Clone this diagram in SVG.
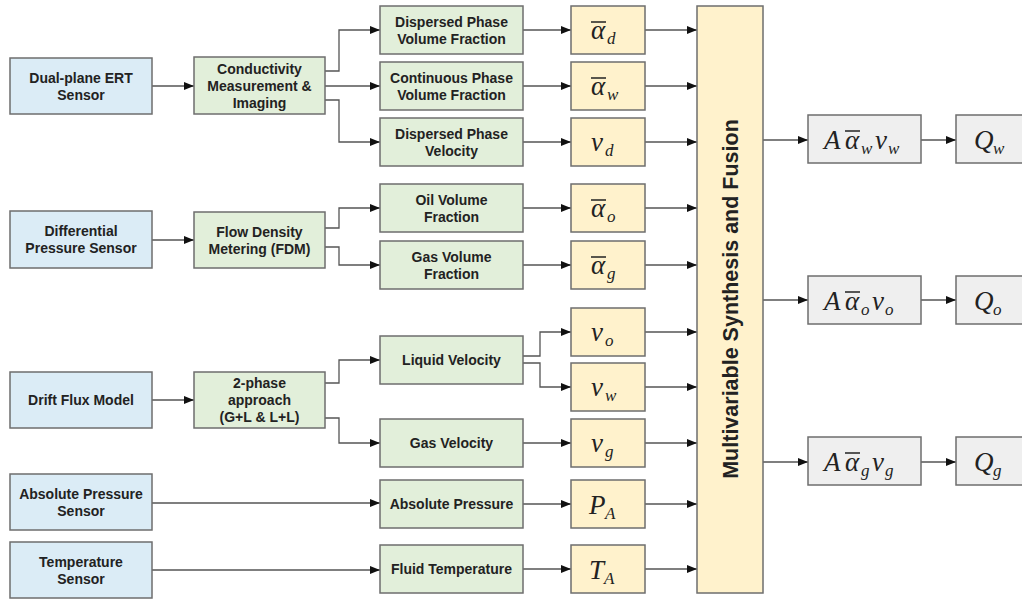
<svg xmlns="http://www.w3.org/2000/svg" width="1022" height="601" viewBox="0 0 1022 601">
<defs>
<marker id="ah" markerUnits="userSpaceOnUse" markerWidth="10" markerHeight="10" refX="10" refY="5" orient="auto">
<path d="M0,1 L10,5 L0,9 z" fill="#111"/>
</marker>
<style>
.b{fill:#dbecf6;stroke:#6e6e6e;stroke-width:1.5}
.g{fill:#e2efda;stroke:#6e6e6e;stroke-width:1.5}
.y{fill:#fff2cc;stroke:#6e6e6e;stroke-width:1.5}
.r{fill:#efefef;stroke:#6e6e6e;stroke-width:1.5}
.t{font-family:"Liberation Sans",Arial,sans-serif;font-weight:bold;font-size:14px;fill:#222;text-anchor:middle}
.m{font-family:"Liberation Serif","Times New Roman",serif;font-style:italic;font-size:27px;fill:#222}
.s{font-size:17px}
.ol{stroke:#222;stroke-width:1.5}
.c path{fill:none;stroke:#555;stroke-width:1.3;marker-end:url(#ah)}
</style>
</defs>
<rect width="1022" height="601" fill="#fff"/>

<g id="connectors" class="c">
<path d="M152,86 H194"/>
<path d="M152,240 H194"/>
<path d="M152,400 H194"/>
<path d="M152,503 H380"/>
<path d="M152,570 H380"/>
<path d="M325,71 H339 V30 H380"/>
<path d="M325,86 H380"/>
<path d="M325,100 H339 V142 H380"/>
<path d="M325,228 H339 V208 H380"/>
<path d="M325,247 H339 V265 H380"/>
<path d="M325,383 H339 V360 H380"/>
<path d="M325,418 H339 V443 H380"/>
<path d="M523,356 H540 V332 H571"/>
<path d="M523,363 H540 V387 H571"/>
<path d="M523,30 H571"/>
<path d="M523,86 H571"/>
<path d="M523,142 H571"/>
<path d="M523,208 H571"/>
<path d="M523,265 H571"/>
<path d="M523,443 H571"/>
<path d="M523,504 H571"/>
<path d="M523,569 H571"/>
<path d="M645,30 H697"/>
<path d="M645,86 H697"/>
<path d="M645,142 H697"/>
<path d="M645,208 H697"/>
<path d="M645,265 H697"/>
<path d="M645,332 H697"/>
<path d="M645,387 H697"/>
<path d="M645,443 H697"/>
<path d="M645,504 H697"/>
<path d="M645,569 H697"/>
<path d="M763,140 H808"/>
<path d="M763,300 H808"/>
<path d="M763,462 H808"/>
<path d="M921,140 H956"/>
<path d="M921,300 H956"/>
<path d="M921,462 H956"/>
</g>

<g id="ert-sensor"><rect class="b" x="10" y="58" width="142" height="56"/><text class="t" x="81" y="83">Dual-plane ERT</text><text class="t" x="81" y="100">Sensor</text></g>
<g id="dp-sensor"><rect class="b" x="10" y="211" width="142" height="57"/><text class="t" x="81" y="236">Differential</text><text class="t" x="81" y="253">Pressure Sensor</text></g>
<g id="drift-flux"><rect class="b" x="10" y="372" width="142" height="56"/><text class="t" x="81" y="405">Drift Flux Model</text></g>
<g id="abs-sensor"><rect class="b" x="10" y="474" width="142" height="56"/><text class="t" x="81" y="499">Absolute Pressure</text><text class="t" x="81" y="516">Sensor</text></g>
<g id="temp-sensor"><rect class="b" x="10" y="542" width="142" height="56"/><text class="t" x="81" y="567">Temperature</text><text class="t" x="81" y="584">Sensor</text></g>

<g id="conductivity"><rect class="g" x="194" y="57" width="131" height="57"/><text class="t" x="259.5" y="74">Conductivity</text><text class="t" x="259.5" y="91">Measurement &amp;</text><text class="t" x="259.5" y="108">Imaging</text></g>
<g id="fdm"><rect class="g" x="194" y="212" width="131" height="56"/><text class="t" x="259.5" y="237">Flow Density</text><text class="t" x="259.5" y="254">Metering (FDM)</text></g>
<g id="two-phase"><rect class="g" x="194" y="372" width="131" height="56"/><text class="t" x="259.5" y="388">2-phase</text><text class="t" x="259.5" y="405">approach</text><text class="t" x="259.5" y="422">(G+L &amp; L+L)</text></g>

<g id="dpvf"><rect class="g" x="380" y="6" width="143" height="48"/><text class="t" x="451.5" y="27">Dispersed Phase</text><text class="t" x="451.5" y="44">Volume Fraction</text></g>
<g id="cpvf"><rect class="g" x="380" y="62" width="143" height="48"/><text class="t" x="451.5" y="83">Continuous Phase</text><text class="t" x="451.5" y="100">Volume Fraction</text></g>
<g id="dpv"><rect class="g" x="380" y="118" width="143" height="48"/><text class="t" x="451.5" y="139">Dispersed Phase</text><text class="t" x="451.5" y="156">Velocity</text></g>
<g id="oilvf"><rect class="g" x="380" y="184" width="143" height="48"/><text class="t" x="451.5" y="205">Oil Volume</text><text class="t" x="451.5" y="222">Fraction</text></g>
<g id="gasvf"><rect class="g" x="380" y="241" width="143" height="48"/><text class="t" x="451.5" y="262">Gas Volume</text><text class="t" x="451.5" y="279">Fraction</text></g>
<g id="liqvel"><rect class="g" x="380" y="336" width="143" height="48"/><text class="t" x="451.5" y="365">Liquid Velocity</text></g>
<g id="gasvel"><rect class="g" x="380" y="419" width="143" height="48"/><text class="t" x="451.5" y="448">Gas Velocity</text></g>
<g id="abspres"><rect class="g" x="380" y="480" width="143" height="48"/><text class="t" x="451.5" y="509">Absolute Pressure</text></g>
<g id="fluidtemp"><rect class="g" x="380" y="545" width="143" height="48"/><text class="t" x="451.5" y="574">Fluid Temperature</text></g>

<g id="alpha-d"><rect class="y" x="571" y="6" width="74" height="48"/><line class="ol" x1="591" y1="22" x2="606" y2="22"/><text class="m" x="591" y="39">α<tspan class="s" x="607" y="44">d</tspan></text></g>
<g id="alpha-w"><rect class="y" x="571" y="62" width="74" height="48"/><line class="ol" x1="591" y1="78" x2="606" y2="78"/><text class="m" x="591" y="95">α<tspan class="s" x="607" y="100">w</tspan></text></g>
<g id="v-d"><rect class="y" x="571" y="118" width="74" height="48"/><text class="m" x="591" y="151">v<tspan class="s" x="605" y="156">d</tspan></text></g>
<g id="alpha-o"><rect class="y" x="571" y="184" width="74" height="48"/><line class="ol" x1="591" y1="200" x2="606" y2="200"/><text class="m" x="591" y="217">α<tspan class="s" x="607" y="222">o</tspan></text></g>
<g id="alpha-g"><rect class="y" x="571" y="241" width="74" height="48"/><line class="ol" x1="591" y1="257" x2="606" y2="257"/><text class="m" x="591" y="274">α<tspan class="s" x="607" y="279">g</tspan></text></g>
<g id="v-o"><rect class="y" x="571" y="308" width="74" height="48"/><text class="m" x="591" y="341">v<tspan class="s" x="605" y="346">o</tspan></text></g>
<g id="v-w"><rect class="y" x="571" y="363" width="74" height="48"/><text class="m" x="591" y="396">v<tspan class="s" x="605" y="401">w</tspan></text></g>
<g id="v-g"><rect class="y" x="571" y="419" width="74" height="48"/><text class="m" x="591" y="452">v<tspan class="s" x="605" y="457">g</tspan></text></g>
<g id="p-a"><rect class="y" x="571" y="480" width="74" height="48"/><text class="m" x="589" y="514">P<tspan class="s" x="605" y="519">A</tspan></text></g>
<g id="t-a"><rect class="y" x="571" y="545" width="74" height="48"/><text class="m" x="589" y="579">T<tspan class="s" x="604" y="584">A</tspan></text></g>

<g id="fusion"><rect class="y" x="697" y="6" width="66" height="587"/><text class="t" transform="translate(738,299) rotate(-90)" style="font-size:21.5px">Multivariable Synthesis and Fusion</text></g>

<g id="qw-calc"><rect class="r" x="808" y="115" width="113" height="48"/><text class="m" x="824" y="149">A</text><line class="ol" x1="845" y1="131" x2="860" y2="131"/><text class="m" x="845" y="149">α<tspan class="s" x="861" y="154">w</tspan><tspan x="875" y="149">v</tspan><tspan class="s" x="888" y="154">w</tspan></text></g>
<g id="qo-calc"><rect class="r" x="808" y="276" width="113" height="48"/><text class="m" x="824" y="310">A</text><line class="ol" x1="845" y1="292" x2="860" y2="292"/><text class="m" x="845" y="310">α<tspan class="s" x="861" y="315">o</tspan><tspan x="872" y="310">v</tspan><tspan class="s" x="885" y="315">o</tspan></text></g>
<g id="qg-calc"><rect class="r" x="808" y="437" width="113" height="48"/><text class="m" x="824" y="471">A</text><line class="ol" x1="845" y1="453" x2="860" y2="453"/><text class="m" x="845" y="471">α<tspan class="s" x="861" y="476">g</tspan><tspan x="872" y="471">v</tspan><tspan class="s" x="885" y="476">g</tspan></text></g>

<g id="qw"><rect class="r" x="956" y="115" width="80" height="48"/><text class="m" x="974" y="149">Q<tspan class="s" x="993" y="154">w</tspan></text></g>
<g id="qo"><rect class="r" x="956" y="276" width="80" height="48"/><text class="m" x="974" y="310">Q<tspan class="s" x="993" y="315">o</tspan></text></g>
<g id="qg"><rect class="r" x="956" y="437" width="80" height="48"/><text class="m" x="974" y="471">Q<tspan class="s" x="993" y="476">g</tspan></text></g>
</svg>
